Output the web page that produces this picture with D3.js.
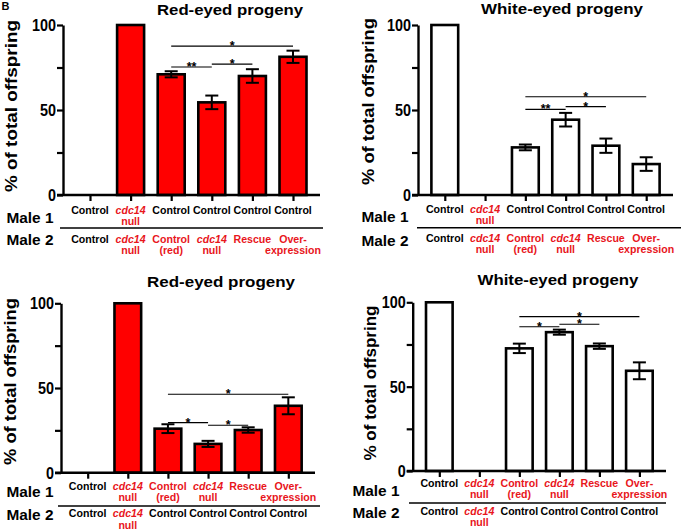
<!DOCTYPE html>
<html><head><meta charset="utf-8">
<script src="https://cdn.jsdelivr.net/npm/d3@7/dist/d3.min.js"></script>
<style>
body{margin:0;background:#fff;}
svg{font-family:"Liberation Sans",Arial,Helvetica,sans-serif;}
</style></head>
<body>
<svg id="c" width="682" height="530"></svg>
<script>
// ---- data ----
const male1TopLabels = ["Control", "cdc14\nnull", "Control", "Control", "Control", "Control"];
const male2TopLabels = ["Control", "cdc14\nnull", "Control\n(red)", "cdc14\nnull", "Rescue", "Over-\nexpression"];
const male1BottomLabels = ["Control", "cdc14\nnull", "Control\n(red)", "cdc14\nnull", "Rescue", "Over-\nexpression"];
const male2BottomLabels = ["Control", "cdc14\nnull", "Control", "Control", "Control", "Control"];

const redTopMean = [0, 100, 71, 54.5, 70, 81.3];
const redTopErr  = [0, 0, 1.8, 4, 4, 3.6];
const whiteTopMean = [100, 0, 28, 44.3, 29, 18.2];
const whiteTopErr  = [0, 0, 1.7, 4, 4.2, 4];
const redBottomMean = [0, 100, 26, 17, 25.2, 39.5];
const redBottomErr  = [0, 0, 2.6, 1.8, 1.6, 5];
const whiteBottomMean = [100, 0, 72.7, 82.3, 74, 59.4];
const whiteBottomErr  = [0, 0, 2.8, 1.5, 1.6, 5];

// significance bars: [fromIndex, toIndex, yValue, label]
const redTopSig = [[2, 5, 87.6, "*"], [2, 3, 75.3, "**"], [3, 4, 77, "*"]];
const whiteTopSig = [[2, 5, 57.8, "*"], [2, 3, 50.4, "**"], [3, 4, 52, "*"]];
const redBottomSig = [[2, 5, 46.3, "*"], [2, 3, 29.6, "*"], [3, 4, 28, "*"]];
const whiteBottomSig = [[2, 5, 91.5, "*"], [2, 3, 85.5, "*"], [3, 4, 87, "*"]];

const yTicks = [0, 25, 50, 75, 100];
const yTickLabels = [0, 50, 100];

// ---- layout ----
const RED = "#ff0000", TXTRED = "#e8161c";
const panels = [
  {title:"Red-eyed progeny", mean:redTopMean, err:redTopErr, sig:redTopSig, m1:male1TopLabels, m2:male2TopLabels, fill:RED,
   L:{x0:63,x1:320,yTop:25,y0:195,tX:230,tY:14.5,tW:146,ylX:11,ylY:106,ylL:172,mX:30,s0:60,s1:323,r1:19,sp:33,r2:47.5,m1:27.7,m2:50}},
  {title:"White-eyed progeny", mean:whiteTopMean, err:whiteTopErr, sig:whiteTopSig, m1:male1TopLabels, m2:male2TopLabels, fill:"#ffffff",
   L:{x0:418,x1:673,yTop:25,y0:195,tX:562,tY:14,tW:162,ylX:368.5,ylY:101.5,ylL:167,mX:385,s0:417,s1:681,r1:17.7,sp:32.7,r2:46.7,m1:26.7,m2:51}},
  {title:"Red-eyed progeny", mean:redBottomMean, err:redBottomErr, sig:redBottomSig, m1:male1BottomLabels, m2:male2BottomLabels, fill:RED,
   L:{x0:61,x1:315,yTop:303.3,y0:472.7,tX:221,tY:286.5,tW:148,ylX:10.5,ylY:381.5,ylL:167,mX:30,s0:58,s1:320,r1:17.3,sp:33.3,r2:44.6,m1:24.6,m2:47.3}},
  {title:"White-eyed progeny", mean:whiteBottomMean, err:whiteBottomErr, sig:whiteBottomSig, m1:male1BottomLabels, m2:male2BottomLabels, fill:"#ffffff",
   L:{x0:412.7,x1:666,yTop:302.3,y0:471,tX:558,tY:285,tW:161,ylX:370.5,ylY:383,ylL:155,mX:376,s0:409,s1:666,r1:15.7,sp:32,r2:44,m1:24.7,m2:47.3}}
];

const svg = d3.select("#c");
svg.append("text").attr("x",1.5).attr("y",10).attr("font-size",11).attr("font-weight","bold").text("B");

function drawLabel(g, label, x, y) {
  const lines = label.split("\n");
  const isRed = label !== "Control";
  const t = g.append("text").attr("text-anchor","middle").attr("font-size",10.6).attr("font-weight","bold")
    .attr("fill", isRed ? TXTRED : "#000");
  lines.forEach((ln, k) => {
    t.append("tspan").attr("x", x).attr("y", y + k*11.2)
      .attr("font-style", ln === "cdc14" ? "italic" : null).text(ln);
  });
}

panels.forEach(p => {
  const L = p.L;
  const g = svg.append("g");
  const idx = d3.range(p.mean.length);
  const x = d3.scalePoint().domain(idx).range([L.x0, L.x1]).padding(0.665);
  const y = d3.scaleLinear().domain([0,100]).range([L.y0, L.yTop]);
  const bw = x.step()*0.665;

  // bars
  g.selectAll("rect.bar").data(idx.filter(i => p.mean[i] > 0)).join("rect")
    .attr("x", i => x(i) - bw/2).attr("width", bw)
    .attr("y", i => y(p.mean[i])).attr("height", i => y(0) - y(p.mean[i]))
    .attr("fill", p.fill).attr("stroke","#000").attr("stroke-width",2.6);

  // error bars
  const eb = idx.filter(i => p.err[i] > 0);
  const cap = 6.5;
  eb.forEach(i => {
    const cx = x(i), hi = y(p.mean[i] + p.err[i]), lo = y(p.mean[i] - p.err[i]);
    g.append("line").attr("x1",cx).attr("x2",cx).attr("y1",hi).attr("y2",lo).attr("stroke","#000").attr("stroke-width",2);
    g.append("line").attr("x1",cx-cap).attr("x2",cx+cap).attr("y1",hi).attr("y2",hi).attr("stroke","#000").attr("stroke-width",2);
    g.append("line").attr("x1",cx-cap).attr("x2",cx+cap).attr("y1",lo).attr("y2",lo).attr("stroke","#000").attr("stroke-width",2);
  });

  // axes
  const ya = g.append("g").attr("transform",`translate(${L.x0},0)`)
    .call(d3.axisLeft(y).tickValues(yTicks).tickSize(6).tickSizeOuter(0).tickPadding(1)
      .tickFormat(d => yTickLabels.includes(d) ? d : ""));
  ya.select(".domain").attr("stroke-width",2.4);
  ya.selectAll(".tick line").attr("stroke-width",2.2);
  ya.selectAll(".tick text").attr("font-size",17).attr("font-weight","bold").attr("fill","#000")
    .attr("textLength", d => yTickLabels.includes(d) ? String(d).length*8 : null)
    .attr("lengthAdjust","spacingAndGlyphs");

  const xa = g.append("g").attr("transform",`translate(0,${L.y0})`)
    .call(d3.axisBottom(x).tickSize(6).tickSizeOuter(0).tickFormat(""));
  xa.select(".domain").attr("stroke-width",2.4).attr("d",`M${L.x0-6},0H${L.x1}`);
  xa.selectAll(".tick line").attr("stroke-width",2.2);

  // significance
  p.sig.forEach(s => {
    const yy = y(s[2]);
    g.append("line").attr("x1",x(s[0])).attr("x2",x(s[1])).attr("y1",yy).attr("y2",yy).attr("stroke","#000").attr("stroke-width",1.2);
    g.append("text").attr("x",(x(s[0])+x(s[1]))/2).attr("y",yy+4).attr("text-anchor","middle")
      .attr("font-size",12.5).attr("font-weight","bold").text(s[3]);
  });

  // title
  g.append("text").attr("x",L.tX).attr("y",L.tY).attr("text-anchor","middle").attr("font-size",15.5).attr("font-weight","bold")
    .attr("textLength",L.tW).attr("lengthAdjust","spacingAndGlyphs").text(p.title);

  // y label
  g.append("text").attr("transform",`translate(${L.ylX},${L.ylY}) rotate(-90)`).attr("dy","0.36em")
    .attr("text-anchor","middle").attr("font-size",16).attr("font-weight","bold")
    .attr("textLength",L.ylL).attr("lengthAdjust","spacingAndGlyphs").text("% of total offspring");

  // category labels
  idx.forEach(i => {
    drawLabel(g, p.m1[i], x(i), L.y0 + L.r1);
    drawLabel(g, p.m2[i], x(i), L.y0 + L.r2);
  });
  g.append("line").attr("x1",L.s0).attr("x2",L.s1).attr("y1",L.y0+L.sp).attr("y2",L.y0+L.sp).attr("stroke","#000").attr("stroke-width",1.4);
  g.append("text").attr("x",L.mX).attr("y",L.y0+L.m1).attr("text-anchor","middle").attr("font-size",15.4).attr("font-weight","bold").text("Male 1");
  g.append("text").attr("x",L.mX).attr("y",L.y0+L.m2).attr("text-anchor","middle").attr("font-size",15.4).attr("font-weight","bold").text("Male 2");
});
</script>
</body></html>
